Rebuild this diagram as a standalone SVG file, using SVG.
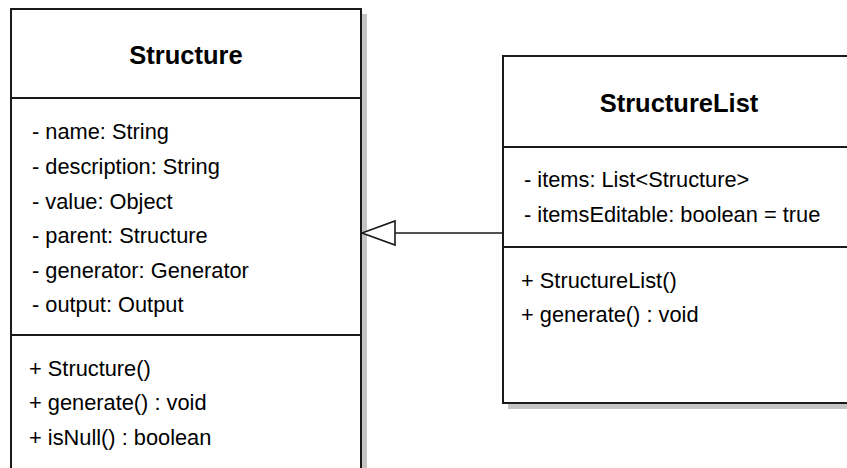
<svg xmlns="http://www.w3.org/2000/svg" width="847" height="468" viewBox="0 0 847 468">
  <style>
    .box { fill: #ffffff; stroke: #1a1a1a; stroke-width: 2; }
    .shadow { fill: #c4c4c4; }
    .div { stroke: #1a1a1a; stroke-width: 2; }
    .title { font-family: "Liberation Sans", Arial, sans-serif; font-size: 25.5px; font-weight: bold; fill: #000; text-anchor: middle; }
    .member { font-family: "Liberation Sans", Arial, sans-serif; font-size: 21.8px; fill: #000; }
    .edge { stroke: #1a1a1a; stroke-width: 1.6; fill: none; }
    .head { fill: #ffffff; stroke: #1a1a1a; stroke-width: 1.6; }
  </style>
  <rect width="847" height="468" fill="#ffffff"/>

  <!-- Structure class -->
  <g id="structure">
    <rect class="shadow" x="16" y="14" width="351" height="470"/>
    <rect class="box" x="11" y="9" width="350" height="470"/>
    <line class="div" x1="11" y1="98" x2="361" y2="98"/>
    <line class="div" x1="11" y1="335" x2="361" y2="335"/>
    <text class="title" x="186" y="64">Structure</text>
    <text class="member" x="32" y="139">- name: String</text>
    <text class="member" x="32" y="174">- description: String</text>
    <text class="member" x="32" y="209">- value: Object</text>
    <text class="member" x="32" y="243">- parent: Structure</text>
    <text class="member" x="32" y="278">- generator: Generator</text>
    <text class="member" x="32" y="312">- output: Output</text>
    <text class="member" x="29" y="376">+ Structure()</text>
    <text class="member" x="29" y="410">+ generate() : void</text>
    <text class="member" x="29" y="445">+ isNull() : boolean</text>
  </g>

  <!-- StructureList class -->
  <g id="structurelist">
    <rect class="shadow" x="508" y="61" width="360" height="348"/>
    <rect class="box" x="503" y="56" width="360" height="347"/>
    <line class="div" x1="503" y1="147" x2="863" y2="147"/>
    <line class="div" x1="503" y1="247" x2="863" y2="247"/>
    <text class="title" x="679" y="112">StructureList</text>
    <text class="member" x="524" y="187">- items: List&lt;Structure&gt;</text>
    <text class="member" x="524" y="222">- itemsEditable: boolean = true</text>
    <text class="member" x="521" y="288">+ StructureList()</text>
    <text class="member" x="521" y="322">+ generate() : void</text>
  </g>

  <!-- generalization: StructureList extends Structure -->
  <g id="connectors">
    <line class="edge" x1="395" y1="233" x2="503" y2="233"/>
    <polygon class="head" points="362,233 395,221 395,245"/>
  </g>
</svg>
